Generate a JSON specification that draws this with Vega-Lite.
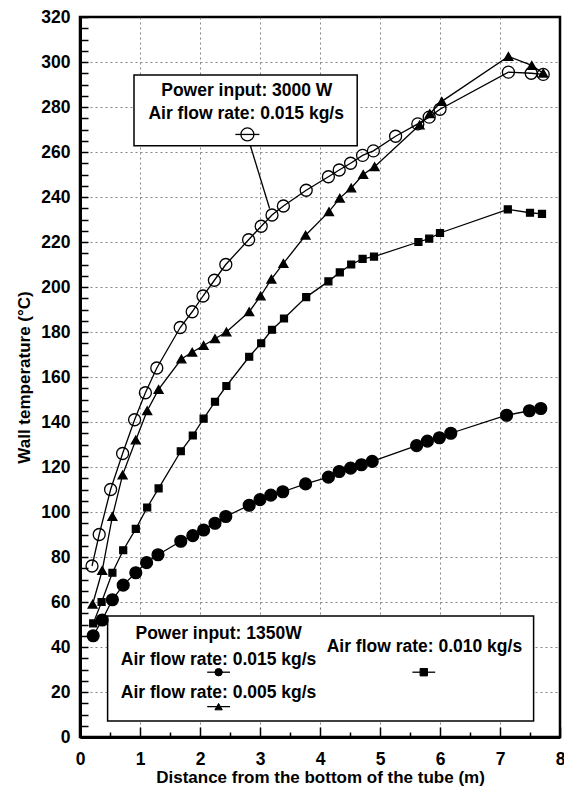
{
  "$schema": "https://vega.github.io/schema/vega-lite/v6.json",
  "width": 480,
  "height": 720,
  "autosize": {"type": "none"},
  "padding": {"left": 80, "top": 17, "right": 4, "bottom": 51},
  "background": "white",
  "config": {
    "view": {"stroke": "black", "strokeWidth": 2.5},
    "font": "Liberation Sans",
    "axis": {
      "labelFont": "Liberation Sans", "labelFontWeight": "bold", "labelFontSize": 17.5, "labelColor": "black",
      "titleFont": "Liberation Sans", "titleFontWeight": "bold", "titleFontSize": 17, "titleColor": "black",
      "domainColor": "black", "domainWidth": 3, "tickColor": "black", "tickWidth": 1.5,
      "gridColor": "#666666", "gridDash": [2, 3], "gridWidth": 0.8
    }
  },
  "datasets": {
    "series": [
      {"s": "A", "x": 0.2, "y": 76}, {"s": "A", "x": 0.32, "y": 90}, {"s": "A", "x": 0.51, "y": 110}, {"s": "A", "x": 0.71, "y": 126}, {"s": "A", "x": 0.91, "y": 141}, {"s": "A", "x": 1.09, "y": 153}, {"s": "A", "x": 1.28, "y": 164}, {"s": "A", "x": 1.67, "y": 182}, {"s": "A", "x": 1.87, "y": 189}, {"s": "A", "x": 2.05, "y": 196}, {"s": "A", "x": 2.24, "y": 203}, {"s": "A", "x": 2.43, "y": 210}, {"s": "A", "x": 2.81, "y": 221}, {"s": "A", "x": 3.02, "y": 227}, {"s": "A", "x": 3.2, "y": 232}, {"s": "A", "x": 3.39, "y": 236}, {"s": "A", "x": 3.77, "y": 243}, {"s": "A", "x": 4.14, "y": 249}, {"s": "A", "x": 4.32, "y": 252}, {"s": "A", "x": 4.51, "y": 255}, {"s": "A", "x": 4.71, "y": 258.5}, {"s": "A", "x": 4.89, "y": 260.5}, {"s": "A", "x": 5.26, "y": 267}, {"s": "A", "x": 5.63, "y": 272.5}, {"s": "A", "x": 5.82, "y": 275.5}, {"s": "A", "x": 6.0, "y": 279}, {"s": "A", "x": 7.14, "y": 295.5}, {"s": "A", "x": 7.52, "y": 295}, {"s": "A", "x": 7.72, "y": 294.5},
      {"s": "B", "x": 0.21, "y": 59}, {"s": "B", "x": 0.37, "y": 74}, {"s": "B", "x": 0.54, "y": 98}, {"s": "B", "x": 0.71, "y": 116.5}, {"s": "B", "x": 0.93, "y": 132}, {"s": "B", "x": 1.12, "y": 145}, {"s": "B", "x": 1.31, "y": 154.5}, {"s": "B", "x": 1.69, "y": 168}, {"s": "B", "x": 1.87, "y": 171}, {"s": "B", "x": 2.06, "y": 174}, {"s": "B", "x": 2.25, "y": 177}, {"s": "B", "x": 2.44, "y": 180}, {"s": "B", "x": 2.82, "y": 189}, {"s": "B", "x": 3.01, "y": 196}, {"s": "B", "x": 3.19, "y": 203.5}, {"s": "B", "x": 3.39, "y": 210.5}, {"s": "B", "x": 3.76, "y": 223}, {"s": "B", "x": 4.15, "y": 233.5}, {"s": "B", "x": 4.33, "y": 239.5}, {"s": "B", "x": 4.52, "y": 244}, {"s": "B", "x": 4.72, "y": 250}, {"s": "B", "x": 4.91, "y": 253.5}, {"s": "B", "x": 5.66, "y": 272}, {"s": "B", "x": 5.83, "y": 277}, {"s": "B", "x": 6.03, "y": 282.5}, {"s": "B", "x": 7.14, "y": 302.5}, {"s": "B", "x": 7.53, "y": 298.5}, {"s": "B", "x": 7.72, "y": 295},
      {"s": "C", "x": 0.22, "y": 50.5}, {"s": "C", "x": 0.36, "y": 60}, {"s": "C", "x": 0.54, "y": 73}, {"s": "C", "x": 0.72, "y": 83}, {"s": "C", "x": 0.93, "y": 92.5}, {"s": "C", "x": 1.12, "y": 102}, {"s": "C", "x": 1.31, "y": 110.5}, {"s": "C", "x": 1.68, "y": 127}, {"s": "C", "x": 1.88, "y": 134}, {"s": "C", "x": 2.06, "y": 141.5}, {"s": "C", "x": 2.25, "y": 149}, {"s": "C", "x": 2.44, "y": 156}, {"s": "C", "x": 2.82, "y": 169}, {"s": "C", "x": 3.02, "y": 175}, {"s": "C", "x": 3.2, "y": 181}, {"s": "C", "x": 3.4, "y": 186}, {"s": "C", "x": 3.77, "y": 195.5}, {"s": "C", "x": 4.14, "y": 202.5}, {"s": "C", "x": 4.33, "y": 206.5}, {"s": "C", "x": 4.52, "y": 210}, {"s": "C", "x": 4.71, "y": 212.5}, {"s": "C", "x": 4.9, "y": 213.5}, {"s": "C", "x": 5.64, "y": 220}, {"s": "C", "x": 5.82, "y": 221.5}, {"s": "C", "x": 6.0, "y": 224}, {"s": "C", "x": 7.13, "y": 234.5}, {"s": "C", "x": 7.5, "y": 233}, {"s": "C", "x": 7.7, "y": 232.5},
      {"s": "D", "x": 0.22, "y": 45}, {"s": "D", "x": 0.37, "y": 52}, {"s": "D", "x": 0.54, "y": 61}, {"s": "D", "x": 0.72, "y": 67.5}, {"s": "D", "x": 0.93, "y": 73}, {"s": "D", "x": 1.11, "y": 77.5}, {"s": "D", "x": 1.3, "y": 81}, {"s": "D", "x": 1.68, "y": 87}, {"s": "D", "x": 1.88, "y": 89.5}, {"s": "D", "x": 2.06, "y": 92}, {"s": "D", "x": 2.25, "y": 95}, {"s": "D", "x": 2.43, "y": 98}, {"s": "D", "x": 2.82, "y": 103}, {"s": "D", "x": 3.0, "y": 105.5}, {"s": "D", "x": 3.18, "y": 107.5}, {"s": "D", "x": 3.38, "y": 109}, {"s": "D", "x": 3.76, "y": 112.5}, {"s": "D", "x": 4.14, "y": 115.5}, {"s": "D", "x": 4.32, "y": 118}, {"s": "D", "x": 4.51, "y": 119.5}, {"s": "D", "x": 4.69, "y": 121}, {"s": "D", "x": 4.87, "y": 122.5}, {"s": "D", "x": 5.61, "y": 129.5}, {"s": "D", "x": 5.79, "y": 131.5}, {"s": "D", "x": 5.99, "y": 133}, {"s": "D", "x": 6.18, "y": 135}, {"s": "D", "x": 7.11, "y": 143}, {"s": "D", "x": 7.49, "y": 145}, {"s": "D", "x": 7.68, "y": 146}
    ],
    "boxes": [
      {"x": 0.9, "x2": 4.62, "y": 294.2, "y2": 262.8},
      {"x": 0.46, "x2": 7.56, "y": 53.8, "y2": 7.1}
    ],
    "leader": [
      {"x": 2.84, "x2": 3.16, "y": 262.8, "y2": 234.9}
    ],
    "legline": [
      {"x": 2.59, "x2": 2.99, "y": 267.8},
      {"x": 2.12, "x2": 2.5, "y": 28.8},
      {"x": 2.12, "x2": 2.5, "y": 13.5},
      {"x": 5.54, "x2": 5.92, "y": 28.8}
    ],
    "legA": [
      {"s": "A", "x": 2.79, "y": 267.8}
    ],
    "legB": [
      {"s": "D", "x": 2.31, "y": 28.8},
      {"s": "B", "x": 2.31, "y": 13.5},
      {"s": "C", "x": 5.73, "y": 28.8}
    ],
    "labels": [
      {"t": "Power input: 3000 W", "x": 2.78, "y": 287.2},
      {"t": "Air flow rate: 0.015 kg/s", "x": 2.77, "y": 276.9},
      {"t": "Power input: 1350W", "x": 2.31, "y": 45.8},
      {"t": "Air flow rate: 0.015 kg/s", "x": 2.31, "y": 34.2},
      {"t": "Air flow rate: 0.005 kg/s", "x": 2.31, "y": 19.4},
      {"t": "Air flow rate: 0.010 kg/s", "x": 5.74, "y": 40.1}
    ]
  },
  "encoding": {
    "x": {
      "field": "x", "type": "quantitative",
      "scale": {"domain": [0, 8], "nice": false, "zero": false},
      "axis": {
        "title": "Distance from the bottom of the tube (m)",
        "values": [0, 0.5, 1, 1.5, 2, 2.5, 3, 3.5, 4, 4.5, 5, 5.5, 6, 6.5, 7, 7.5, 8],
        "labelExpr": "datum.value % 1 === 0 ? datum.value : ''",
        "labelOverlap": false, "labelFlush": false,
        "tickSize": {"condition": {"test": "datum.value % 1 === 0", "value": -10}, "value": -5},
        "gridOpacity": {"condition": {"test": "datum.value % 1 === 0 && datum.value > 0 && datum.value < 8", "value": 1}, "value": 0},
        "labelPadding": 23,
        "titlePadding": -3
      }
    },
    "y": {
      "field": "y", "type": "quantitative",
      "scale": {"domain": [0, 320], "nice": false, "zero": false},
      "axis": {
        "title": "Wall temperature (°C)",
        "values": [0, 5, 10, 15, 20, 25, 30, 35, 40, 45, 50, 55, 60, 65, 70, 75, 80, 85, 90, 95, 100, 105, 110, 115, 120, 125, 130, 135, 140, 145, 150, 155, 160, 165, 170, 175, 180, 185, 190, 195, 200, 205, 210, 215, 220, 225, 230, 235, 240, 245, 250, 255, 260, 265, 270, 275, 280, 285, 290, 295, 300, 305, 310, 315, 320],
        "labelExpr": "datum.value % 20 === 0 ? datum.value : ''",
        "labelOverlap": false, "labelFlush": false,
        "tickSize": -8,
        "gridOpacity": {"condition": {"test": "datum.value % 20 === 0 && datum.value > 0 && datum.value < 320", "value": 1}, "value": 0},
        "labelPadding": 18,
        "titlePadding": 7
      }
    }
  },
  "layer": [
    {
      "data": {"name": "boxes"},
      "mark": {"type": "rect", "fill": "white", "stroke": "black", "strokeWidth": 1.5},
      "encoding": {"x2": {"field": "x2"}, "y2": {"field": "y2"}}
    },
    {
      "data": {"name": "series"},
      "mark": {"type": "line", "color": "black", "strokeWidth": 1.3},
      "encoding": {"detail": {"field": "s", "type": "nominal"}}
    },
    {
      "data": {"name": "series"},
      "mark": {"type": "point", "stroke": "black", "strokeWidth": 1.3, "opacity": 1},
      "encoding": {
        "shape": {"field": "s", "type": "nominal", "scale": {"domain": ["A", "B", "C", "D"], "range": ["circle", "triangle-up", "square", "circle"]}, "legend": null},
        "size": {"field": "s", "type": "nominal", "scale": {"type": "ordinal", "domain": ["A", "B", "C", "D"], "range": [144, 80, 48, 140]}, "legend": null},
        "fill": {"field": "s", "type": "nominal", "scale": {"domain": ["A", "B", "C", "D"], "range": ["transparent", "black", "black", "black"]}, "legend": null}
      }
    },
    {
      "data": {"name": "leader"},
      "mark": {"type": "rule", "color": "black", "strokeWidth": 1.3},
      "encoding": {"x2": {"field": "x2"}, "y2": {"field": "y2"}}
    },
    {
      "data": {"name": "legline"},
      "mark": {"type": "rule", "color": "black", "strokeWidth": 1.3},
      "encoding": {"x2": {"field": "x2"}}
    },
    {
      "data": {"name": "legA"},
      "mark": {"type": "point", "shape": "circle", "size": 170, "stroke": "black", "strokeWidth": 1.3, "fill": "transparent", "opacity": 1},
      "encoding": {}
    },
    {
      "data": {"name": "legB"},
      "mark": {"type": "point", "size": 55, "stroke": "black", "strokeWidth": 1, "fill": "black", "opacity": 1},
      "encoding": {
        "shape": {"field": "s", "type": "nominal", "scale": {"domain": ["A", "B", "C", "D"], "range": ["circle", "triangle-up", "square", "circle"]}, "legend": null}
      }
    },
    {
      "data": {"name": "labels"},
      "mark": {"type": "text", "align": "center", "baseline": "middle", "font": "Liberation Sans", "fontWeight": "bold", "fontSize": 17.5, "color": "black"},
      "encoding": {"text": {"field": "t", "type": "nominal"}}
    }
  ]
}
